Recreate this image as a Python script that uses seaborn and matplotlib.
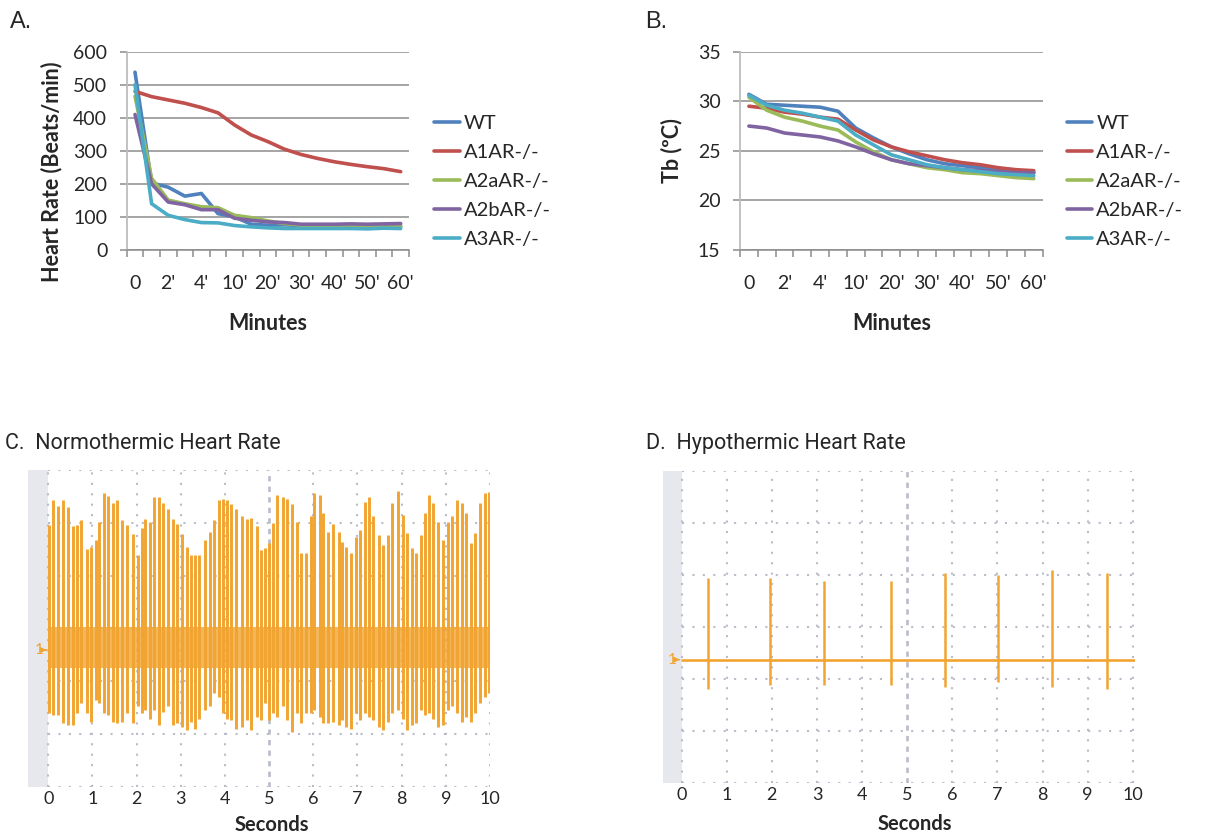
import numpy as np
import pandas as pd
import matplotlib
matplotlib.use("Agg")
import matplotlib.pyplot as plt
from matplotlib.lines import Line2D
import seaborn as sns

# ---- panel A/B data -------------------------------------------------------
GENOTYPES = ["WT", "A1AR-/-", "A2aAR-/-", "A2bAR-/-", "A3AR-/-"]
COLORS = ["#4F81BD", "#C0504D", "#9BBB59", "#8064A2", "#4BACC6"]
MINUTES = ["0", "1'", "2'", "3'", "4'", "5'", "10'", "15'", "20'", "25'",
           "30'", "35'", "40'", "45'", "50'", "55'", "60'"]

HR_WT = [538, 203, 190, 163, 171, 110, 100, 78, 75, 76, 74, 73, 72, 72, 72, 72, 71]
HR_A1 = [480, 464, 454, 444, 431, 415, 378, 348, 328, 305, 289, 277, 267, 259, 252, 246, 237]
HR_A2A = [465, 217, 151, 140, 131, 128, 105, 98, 88, 80, 75, 73, 73, 73, 73, 72, 72]
HR_A2B = [410, 200, 145, 137, 122, 122, 96, 90, 85, 83, 78, 78, 78, 79, 78, 79, 80]
HR_A3 = [500, 140, 105, 92, 83, 82, 74, 70, 67, 65, 65, 65, 65, 65, 64, 66, 65]

TB_WT = [30.7, 29.7, 29.6, 29.5, 29.4, 29.0, 27.3, 26.3, 25.4, 24.7, 24.1, 23.7, 23.5, 23.3, 23.1, 22.9, 22.8]
TB_A1 = [29.5, 29.3, 28.9, 28.7, 28.4, 28.2, 27.1, 26.1, 25.4, 24.9, 24.5, 24.1, 23.8, 23.6, 23.3, 23.1, 23.0]
TB_A2A = [30.4, 29.1, 28.4, 28.0, 27.5, 27.1, 25.9, 24.9, 24.1, 23.7, 23.3, 23.1, 22.8, 22.7, 22.5, 22.3, 22.2]
TB_A2B = [27.5, 27.3, 26.8, 26.6, 26.4, 26.0, 25.4, 24.7, 24.1, 23.7, 23.5, 23.3, 23.1, 23.0, 22.9, 22.8, 22.8]
TB_A3 = [30.6, 29.6, 29.1, 28.8, 28.4, 28.0, 26.6, 25.6, 24.6, 24.1, 23.6, 23.3, 23.1, 22.9, 22.7, 22.6, 22.5]

# ---- panel C: normothermic ECG beats (time s, peak, trough in grid divisions)
C_BASE = -0.41
C_BEAT_T = [0.02, 0.11, 0.23, 0.34, 0.44, 0.55, 0.64, 0.75, 0.87, 0.96,
            1.07, 1.15, 1.27, 1.36, 1.47, 1.56, 1.66, 1.79, 1.92, 2.02,
            2.11, 2.19, 2.30, 2.39, 2.51, 2.60, 2.70, 2.82, 2.91, 3.02,
            3.13, 3.22, 3.32, 3.42, 3.55, 3.66, 3.76, 3.86, 3.95, 4.04,
            4.14, 4.26, 4.38, 4.49, 4.60, 4.72, 4.82, 4.91, 5.00, 5.09,
            5.17, 5.31, 5.41, 5.52, 5.62, 5.72, 5.83, 5.94, 6.02, 6.14,
            6.23, 6.34, 6.45, 6.57, 6.64, 6.75, 6.85, 6.97, 7.06, 7.17,
            7.27, 7.36, 7.49, 7.58, 7.68, 7.79, 7.91, 8.02, 8.13, 8.23,
            8.32, 8.43, 8.53, 8.63, 8.72, 8.83, 8.94, 9.06, 9.15, 9.25,
            9.36, 9.45, 9.56, 9.66, 9.77, 9.89, 9.97]
C_BEAT_HI = [1.96, 2.43, 2.32, 2.43, 2.29, 1.94, 1.96, 2.05, 1.50, 1.55,
             1.67, 2.02, 2.56, 2.50, 2.37, 2.43, 2.05, 1.96, 1.79, 1.39,
             1.90, 2.07, 2.02, 2.48, 2.48, 2.37, 2.27, 2.07, 1.98, 1.79,
             1.54, 1.39, 1.39, 1.39, 1.67, 1.83, 2.05, 2.43, 2.46, 2.43,
             2.36, 2.27, 2.12, 2.07, 2.10, 1.94, 1.48, 1.52, 1.62, 2.00,
             2.53, 2.48, 2.46, 2.36, 2.02, 1.42, 1.42, 2.12, 2.57, 2.53,
             2.18, 1.83, 1.98, 1.83, 1.64, 1.54, 1.42, 1.74, 1.86, 2.40,
             2.48, 2.12, 1.77, 1.58, 1.77, 2.37, 2.61, 2.15, 1.81, 1.52,
             1.42, 1.77, 2.19, 2.53, 2.37, 2.02, 1.67, 2.02, 2.12, 2.43,
             2.37, 2.18, 1.61, 1.81, 2.37, 2.57, 2.59]
C_BEAT_LO = [-1.61, -1.64, -1.64, -1.80, -1.83, -1.83, -1.61, -1.42, -1.61, -1.77,
             -1.36, -1.42, -1.61, -1.64, -1.77, -1.80, -1.77, -1.61, -1.80, -1.48,
             -1.61, -1.55, -1.71, -1.55, -1.83, -1.58, -1.48, -1.83, -1.80, -1.86,
             -1.93, -1.77, -1.90, -1.71, -1.55, -1.48, -1.23, -1.30, -1.61, -1.71,
             -1.74, -1.90, -1.86, -1.74, -1.93, -1.67, -1.74, -1.42, -1.74, -1.61,
             -1.67, -1.48, -1.74, -1.96, -1.61, -1.80, -1.61, -1.61, -1.55, -1.67,
             -1.80, -1.80, -1.77, -1.83, -1.74, -1.86, -1.90, -1.61, -1.74, -1.61,
             -1.67, -1.74, -1.86, -1.93, -1.77, -1.61, -1.55, -1.71, -1.93, -1.83,
             -1.80, -1.55, -1.64, -1.61, -1.71, -1.86, -1.83, -1.55, -1.48, -1.61,
             -1.77, -1.67, -1.77, -1.61, -1.42, -1.30, -1.23]

# ---- panel D: hypothermic ECG beats
D_BASE = -0.63
D_BEAT_T = [0.59, 1.95, 3.15, 4.63, 5.83, 7.02, 8.22, 9.44]
D_BEAT_HI = [0.93, 0.93, 0.88, 0.88, 1.04, 1.00, 1.09, 1.04]
D_BEAT_LO = [-1.19, -1.11, -1.12, -1.11, -1.15, -1.06, -1.15, -1.19]

ORANGE = "#F2A431"
GRID_GREY = "#8c8c8c"
ECG_GRID = "#b9bdc9"


def long_frame(series):
    rows = []
    for g, vals in zip(GENOTYPES, series):
        for i, v in enumerate(vals):
            rows.append({"pos": i, "minute": MINUTES[i], "genotype": g, "value": v})
    return pd.DataFrame(rows)


def excel_axes(ax, ylim, yticks, ylabel, ylabel_xy):
    ax.set_xlim(-0.5, len(MINUTES) - 0.5)
    ax.set_ylim(*ylim)
    ax.set_yticks(yticks)
    ax.yaxis.grid(True, color=GRID_GREY, lw=1.1)
    ax.xaxis.grid(False)
    ax.set_axisbelow(True)
    ax.set_xticks(range(0, len(MINUTES), 2))
    ax.set_xticklabels(MINUTES[::2])
    ax.set_xticks(np.arange(-0.5, len(MINUTES), 1), minor=True)
    ax.tick_params(axis="x", which="major", length=0, pad=18, labelsize=14)
    ax.tick_params(axis="x", which="minor", length=5, width=1.1, color=GRID_GREY,
                   direction="out", bottom=True)
    ax.tick_params(axis="y", length=5, width=1.1, color=GRID_GREY, pad=9,
                   labelsize=14, left=True)
    for s in ["top", "right"]:
        ax.spines[s].set_visible(False)
    ax.spines["left"].set_color("#bdbdbd")
    ax.spines["left"].set_linewidth(1.3)
    ax.spines["bottom"].set_color(GRID_GREY)
    ax.spines["bottom"].set_linewidth(1.1)
    ax.set_xlabel("Minutes", fontweight="bold", fontsize=15.5)
    ax.xaxis.set_label_coords(0.5, -0.32)
    ax.set_ylabel(ylabel, fontweight="bold", fontsize=15.5)
    ax.yaxis.set_label_coords(*ylabel_xy)


def ecg_axes(ax, xlim, label_x, label_y):
    ax.set_xlim(*xlim)
    ax.set_ylim(-3, 3)
    ax.axvspan(xlim[0], 0, color="#e7e8ed", lw=0, zorder=0)
    for x in range(0, 11):
        ax.axvline(x, color=ECG_GRID, lw=1.5 if x != 5 else 1.9,
                   ls=(0, (1, 4)) if x != 5 else (0, (2, 2)), zorder=1)
    for y in range(-3, 4):
        ax.axhline(y, xmin=(0 - xlim[0]) / (xlim[1] - xlim[0]), color=ECG_GRID,
                   lw=1.5, ls=(0, (1, 4)), zorder=1)
    ax.set_xticks(range(0, 11))
    ax.set_yticks([])
    ax.tick_params(axis="x", length=0, pad=3, labelsize=13)
    for s in ax.spines.values():
        s.set_visible(False)
    ax.set_xlabel("Seconds", fontweight="bold", fontsize=14.5)
    ax.xaxis.set_label_coords(label_x, label_y)


sns.set_theme(style="white")
plt.rcParams["font.family"] = ["Lato", "DejaVu Sans"]

fig = plt.figure(figsize=(12.05, 8.33), dpi=100)

# A: heart rate
axA = fig.add_axes([0.10515, 0.69988, 0.23427, 0.23806])
hr = long_frame([HR_WT, HR_A1, HR_A2A, HR_A2B, HR_A3])
sns.lineplot(data=hr, x="pos", y="value", hue="genotype", hue_order=GENOTYPES,
             palette=dict(zip(GENOTYPES, COLORS)), lw=2.6, legend=False, ax=axA,
             sort=False)
excel_axes(axA, (0, 600), range(0, 601, 100), "Heart Rate (Beats/min)", (-0.229, 0.396))

# B: body temperature
axB = fig.add_axes([0.61411, 0.69988, 0.2512, 0.23806])
tb = long_frame([TB_WT, TB_A1, TB_A2A, TB_A2B, TB_A3])
sns.lineplot(data=tb, x="pos", y="value", hue="genotype", hue_order=GENOTYPES,
             palette=dict(zip(GENOTYPES, COLORS)), lw=2.6, legend=False, ax=axB,
             sort=False)
excel_axes(axB, (15, 35), range(15, 36, 5), "Tb (ºC)", (-0.192, 0.502))

handles = [Line2D([], [], color=c, lw=2.6) for c in COLORS]
for x0 in (0.3605, 0.8855):
    fig.legend(handles, GENOTYPES, loc="upper left", bbox_to_anchor=(x0, 0.8625),
               frameon=False, handlelength=1.25, handletextpad=0.2,
               labelspacing=0.6, fontsize=14.5, borderpad=0, borderaxespad=0)

fig.text(10 / 1205, 1 - 28 / 833, "A.", fontsize=17, family="Liberation Sans", va="baseline")
fig.text(645 / 1205, 1 - 28 / 833, "B.", fontsize=17, family="Liberation Sans", va="baseline")

# C: normothermic ECG
axC = fig.add_axes([0.02324, 0.05558, 0.3834, 0.38019])
ecg_axes(axC, (-0.46, 10.0), 0.528, -0.09)
xl = axC.get_xlim()
axC.axhspan(C_BASE - 0.35, C_BASE + 0.44, xmin=(0 - xl[0]) / (xl[1] - xl[0]),
            color=ORANGE, alpha=0.8, lw=0, zorder=2)
axC.vlines(C_BEAT_T, C_BEAT_LO, C_BEAT_HI, color=ORANGE, lw=2.1, zorder=3)
axC.text(-0.1, C_BASE, "1", color=ORANGE, fontsize=11, ha="right", va="center")
axC.annotate("", xy=(0.02, C_BASE), xytext=(-0.12, C_BASE),
             arrowprops=dict(arrowstyle="-|>", color=ORANGE, lw=1, mutation_scale=8))

# D: hypothermic ECG
axD = fig.add_axes([0.54996, 0.06002, 0.39195, 0.37491])
ecg_axes(axD, (-0.42, 10.05), 0.534, -0.10)
xl = axD.get_xlim()
axD.axhline(D_BASE, xmin=(0 - xl[0]) / (xl[1] - xl[0]), color=ORANGE, lw=1.9, zorder=2)
axD.vlines(D_BEAT_T, D_BEAT_LO, D_BEAT_HI, color=ORANGE, lw=1.8, zorder=3)
axD.text(-0.1, D_BASE, "1", color=ORANGE, fontsize=11, ha="right", va="center")
axD.annotate("", xy=(0.02, D_BASE), xytext=(-0.12, D_BASE),
             arrowprops=dict(arrowstyle="-|>", color=ORANGE, lw=1, mutation_scale=8))

fig.text(5 / 1205, 1 - 449 / 833, "C.  Normothermic Heart Rate", fontsize=15.5,
         family="Roboto", va="baseline")
fig.text(646 / 1205, 1 - 449 / 833, "D.  Hypothermic Heart Rate", fontsize=15.5,
         family="Roboto", va="baseline")

fig.savefig("out.png", dpi=100)
